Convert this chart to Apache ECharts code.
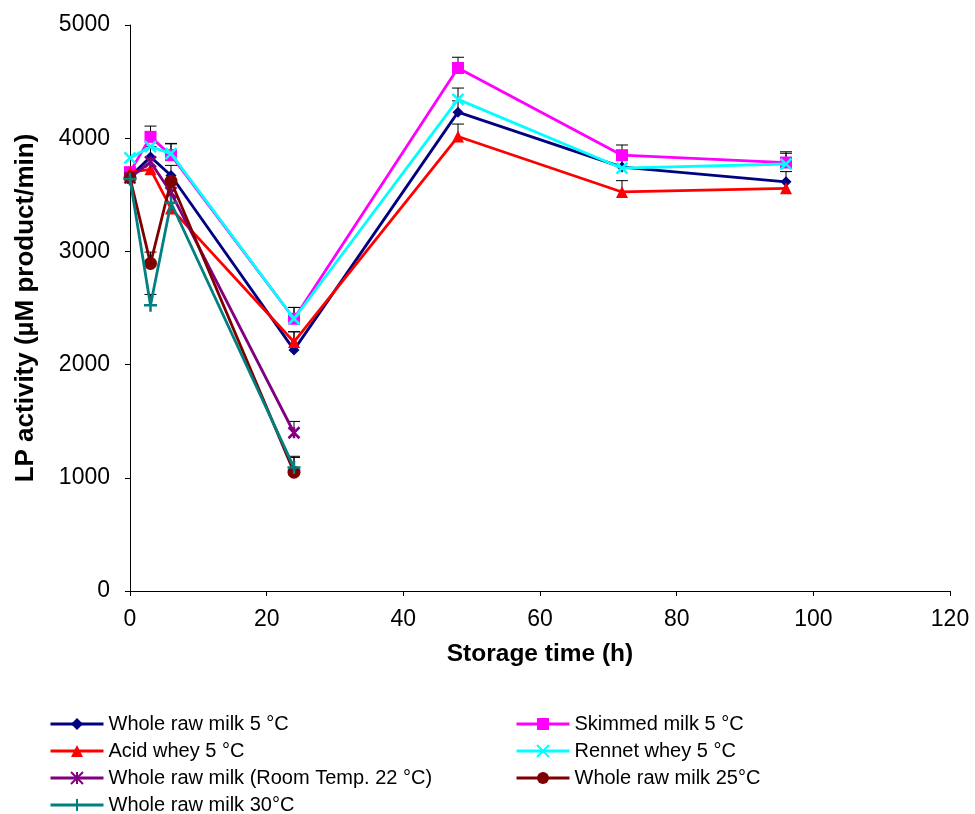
<!DOCTYPE html>
<html><head><meta charset="utf-8">
<script src="https://cdn.jsdelivr.net/npm/echarts@6/dist/echarts.min.js"></script>
<style>html,body{margin:0;padding:0;background:#fff}#c{width:975px;height:814px}</style>
</head><body><div id="c"></div>
<script>
const seriesNames = ["Whole raw milk 5 °C","Skimmed milk 5 °C","Acid whey 5 °C","Rennet whey 5 °C","Whole raw milk (Room Temp. 22 °C)","Whole raw milk 25°C","Whole raw milk 30°C"];
const timesLong = [0,3,6,24,48,72,96];
const timesShort = [0,3,6,24];
const wholeMilk5 = [3660,3835,3670,2130,4230,3745,3615];
const wholeMilk5Err = [0,90,90,160,100,90,90];
const skimmed5 = [3700,4012,3850,2405,4620,3850,3785];
const skimmed5Err = [0,95,100,100,95,90,95];
const acidWhey5 = [3700,3725,3380,2200,4015,3525,3557];
const acidWhey5Err = [0,0,0,90,110,100,0];
const rennetWhey5 = [3826,3925,3864,2405,4343,3735,3772];
const rennetWhey5Err = [0,0,90,100,100,0,95];
const room22 = [3650,3790,3520,1398];
const room22Err = [0,0,0,100];
const milk25 = [3650,2894,3620,1050];
const milk25Err = [0,100,0,130];
const milk30 = [3640,2525,3430,1090];
const milk30Err = [0,95,0,100];
const yTicks = [0,1000,2000,3000,4000,5000];
const xTicks = [0,20,40,60,80,100,120];

const colors = ['#000080','#FF00FF','#FF0000','#00FFFF','#800080','#800000','#008080'];
const symbols = ['diamond','rect','triangle','path://M0,0 L10,10 M10,0 L0,10','path://M0,0 L10,10 M10,0 L0,10 M5,0 L5,10','circle','path://M5,0 L5,10 M0,5 L10,5'];
const sizes = [11,12,12,11,11,13,13];
const vals = [wholeMilk5,skimmed5,acidWhey5,rennetWhey5,room22,milk25,milk30];
const errs = [wholeMilk5Err,skimmed5Err,acidWhey5Err,rennetWhey5Err,room22Err,milk25Err,milk30Err];
const font = 'Liberation Sans, Arial, sans-serif';

const series = [];
vals.forEach((v,i)=>{
  const t = v.length===7 ? timesLong : timesShort;
  series.push({
    type:'custom', name: seriesNames[i]+'_err', silent:true, z:1,
    data: v.map((y,k)=>[t[k], y, errs[i][k]]),
    renderItem: function(params, api){
      const e = api.value(2);
      if(!e) return null;
      const p0 = api.coord([api.value(0), api.value(1)]);
      const p1 = api.coord([api.value(0), api.value(1)+e]);
      return {type:'group', children:[
        {type:'line', shape:{x1:p0[0],y1:p0[1],x2:p1[0],y2:p1[1]}, style:{stroke:'#000',lineWidth:1}},
        {type:'line', shape:{x1:p1[0]-6,y1:p1[1],x2:p1[0]+6,y2:p1[1]}, style:{stroke:'#000',lineWidth:1}}
      ]};
    }
  });
});
vals.forEach((v,i)=>{
  const t = v.length===7 ? timesLong : timesShort;
  const isPath = symbols[i].startsWith('path');
  series.push({
    type:'line', name: seriesNames[i], z:2+i,
    data: v.map((y,k)=>[t[k], y]),
    symbol: symbols[i], symbolSize: sizes[i], showAllSymbol:true,
    lineStyle:{color:colors[i], width:2.8},
    itemStyle: isPath ? {color:colors[i], borderColor:colors[i], borderWidth:2.5} : {color:colors[i], borderWidth:0},
    emphasis:{disabled:true}, animation:false
  });
});

const chart = echarts.init(document.getElementById('c'), null, {renderer:'canvas'});
const legendBase = {orient:'vertical', height:120, itemWidth:53, itemHeight:15, itemGap:7,
  lineStyle:{width:3}, textStyle:{fontFamily:font, fontSize:20, color:'#000'}, selectedMode:false};
chart.setOption({
  animation:false,
  backgroundColor:'#fff',
  grid:{left:130, right:25, top:25, bottom:223},
  xAxis:{type:'value', min:0, max:120, interval:20,
    name:'Storage time (h)', nameLocation:'middle', nameGap:51,
    nameTextStyle:{fontFamily:font, fontSize:24.5, fontWeight:'bold', color:'#000'},
    axisLine:{show:true, lineStyle:{color:'#000', width:1}},
    axisTick:{show:true, length:5, lineStyle:{color:'#000'}},
    axisLabel:{fontFamily:font, fontSize:23, color:'#000', margin:17, formatter: v => xTicks.includes(v) ? String(v) : ''},
    splitLine:{show:false}},
  yAxis:{type:'value', min:0, max:5000, interval:1000,
    name:'LP activity (µM product/min)', nameLocation:'middle', nameGap:91,
    nameTextStyle:{fontFamily:font, fontSize:26, fontWeight:'bold', color:'#000'},
    axisLine:{show:true, lineStyle:{color:'#000', width:1}},
    axisTick:{show:true, length:5, lineStyle:{color:'#000'}},
    axisLabel:{fontFamily:font, fontSize:23, color:'#000', margin:20, formatter: v => yTicks.includes(v) ? String(v) : ''},
    splitLine:{show:false}},
  legend:[
    Object.assign({left:44, top:709, data:[seriesNames[0],seriesNames[2],seriesNames[4],seriesNames[6]]}, legendBase),
    Object.assign({left:510, top:709, data:[seriesNames[1],seriesNames[3],seriesNames[5]]}, legendBase)
  ],
  series: series
});
</script></body></html>
